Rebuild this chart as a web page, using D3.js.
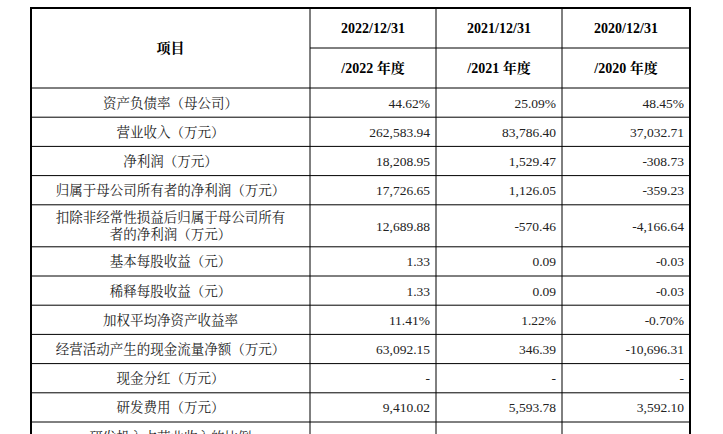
<!DOCTYPE html>
<html><head><meta charset="utf-8">
<script src="https://cdn.jsdelivr.net/npm/d3@7"></script>
<style>body{margin:0;background:#fff}</style>
</head><body><div id="chart"></div>
<script>
const headTop = ["2022/12/31", "2021/12/31", "2020/12/31"];
const headBottom = ["/2022 年度", "/2021 年度", "/2020 年度"];
const items = ["资产负债率（母公司）", "营业收入（万元）", "净利润（万元）", "归属于母公司所有者的净利润（万元）",
  "扣除非经常性损益后归属于母公司所有|者的净利润（万元）", "基本每股收益（元）", "稀释每股收益（元）", "加权平均净资产收益率",
  "经营活动产生的现金流量净额（万元）", "现金分红（万元）", "研发费用（万元）", "研发投入占营业收入的比例"];
const v2022 = ["44.62%", "262,583.94", "18,208.95", "17,726.65", "12,689.88", "1.33", "1.33", "11.41%", "63,092.15", "-", "9,410.02", "3.58%"];
const v2021 = ["25.09%", "83,786.40", "1,529.47", "1,126.05", "-570.46", "0.09", "0.09", "1.22%", "346.39", "-", "5,593.78", "6.68%"];
const v2020 = ["48.45%", "37,032.71", "-308.73", "-359.23", "-4,166.64", "-0.03", "-0.03", "-0.70%", "-10,696.31", "-", "3,592.10", "9.70%"];

const W = 723, H = 434;
const svg = d3.select("#chart").append("svg").attr("width", W).attr("height", H);
const colX = [31, 310, 436, 562, 690];
const rowH = items.map(d => d.includes("|") ? 42 : 29.2);
const tableTop = 8, headH = 80;
const rowY = [tableTop + headH];
rowH.forEach((h, i) => rowY.push(rowY[i] + h));
const serif = "'Liberation Serif','Noto Serif CJK SC','Noto Sans CJK SC',serif";

// header
svg.append("text").attr("x", (colX[0] + colX[1]) / 2).attr("y", tableTop + headH / 2 + 5)
  .attr("text-anchor", "middle").style("font", `bold 14px ${serif}`).text("项目");
[headTop, headBottom].forEach((arr, r) => {
  arr.forEach((t, i) => {
    svg.append("text").attr("x", (colX[i + 1] + colX[i + 2]) / 2).attr("y", tableTop + 20 + r * 40 + 5)
      .attr("text-anchor", "middle").style("font", `bold 14px ${serif}`).attr("fill", "#000").text(t);
  });
});

// rows
const vals = [v2022, v2021, v2020];
items.forEach((name, i) => {
  const cy = rowY[i] + rowH[i] / 2;
  const lines = name.split("|");
  lines.forEach((l, k) => {
    svg.append("text").attr("x", (colX[0] + colX[1]) / 2)
      .attr("y", cy + 5 + (k - (lines.length - 1) / 2) * 17)
      .attr("text-anchor", "middle").style("font", `13.5px ${serif}`).attr("fill", "#222").text(l);
  });
  vals.forEach((arr, j) => {
    svg.append("text").attr("x", colX[j + 2] - 6).attr("y", cy + 5)
      .attr("text-anchor", "end").style("font", `13.5px ${serif}`).attr("fill", "#222").text(arr[i]);
  });
});

// grid
const g = svg.append("g").attr("stroke", "#000").attr("fill", "none");
const bottom = rowY[rowY.length - 1];
g.append("line").attr("x1", colX[1]).attr("x2", colX[4]).attr("y1", tableTop + 40).attr("y2", tableTop + 40).attr("stroke-width", 1);
rowY.slice(0, -1).forEach(y => g.append("line").attr("x1", colX[0]).attr("x2", colX[4]).attr("y1", y).attr("y2", y).attr("stroke-width", 1));
colX.slice(1, 4).forEach(x => g.append("line").attr("x1", x).attr("x2", x).attr("y1", tableTop).attr("y2", bottom).attr("stroke-width", 1));
g.append("rect").attr("x", colX[0]).attr("y", tableTop).attr("width", colX[4] - colX[0]).attr("height", bottom - tableTop).attr("stroke-width", 2);
</script></body></html>
